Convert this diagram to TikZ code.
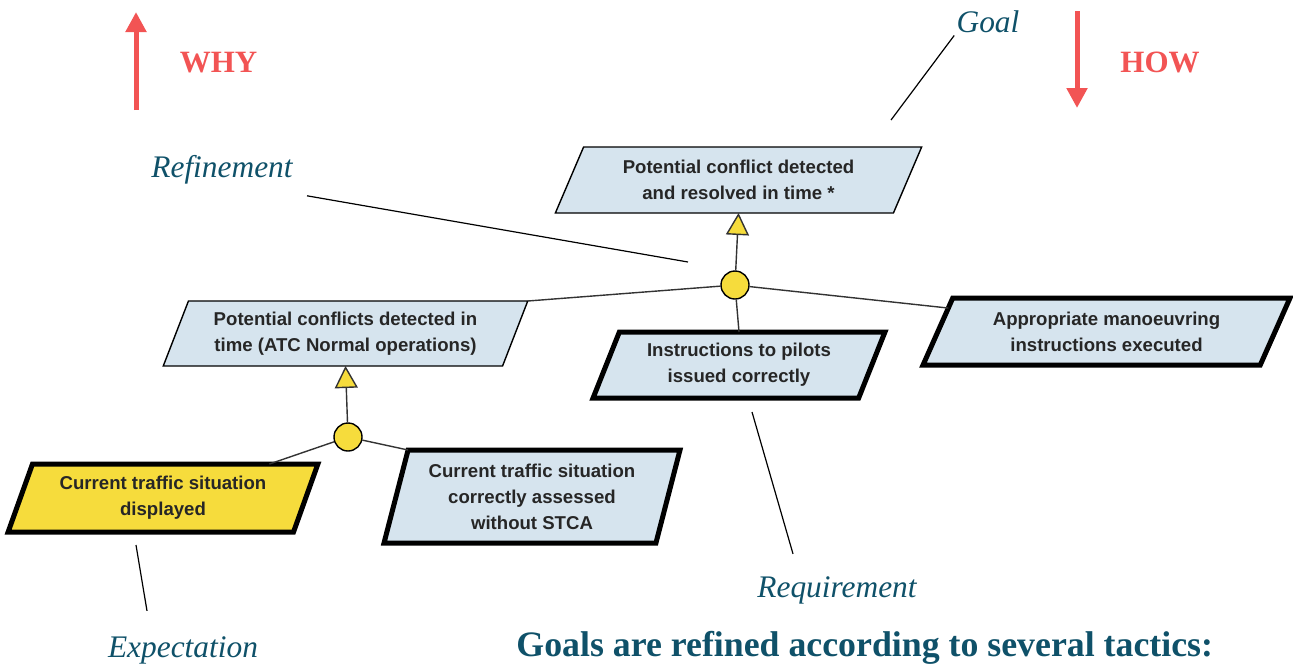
\documentclass[tikz,border=0pt]{standalone}
\usepackage{fontspec}
\setmainfont{Liberation Serif}
\setsansfont{Liberation Sans}
\usetikzlibrary{shapes.geometric, arrows.meta, calc}

\definecolor{goalblue}{HTML}{D6E4EE}
\definecolor{goalyellow}{HTML}{F6DC3C}
\definecolor{noteteal}{HTML}{0F5169}
\definecolor{dirred}{HTML}{F25454}

\begin{document}
\begin{tikzpicture}[x=0.5pt, y=-0.5pt,
    goalbox/.style={trapezium, trapezium stretches=true, draw, line width=0.7pt,
        fill=goalblue, inner sep=0pt, outer sep=0pt, align=center, text=black!85,
        font=\sffamily\bfseries\fontsize{9.3}{13}\selectfont},
    reqbox/.style={goalbox, line width=2.5pt},
    expbox/.style={reqbox, fill=goalyellow},
    refine/.style={circle, draw, line width=0.7pt, fill=goalyellow, minimum size=14pt, inner sep=0pt},
    link/.style={draw=black!80, line width=0.7pt},
    achieve/.style={link, -{Triangle[length=11pt, width=11.5pt, fill=goalyellow]}},
    note/.style={text=noteteal, inner sep=1pt, font=\itshape\fontsize{15.7}{18}\selectfont},
    pointer/.style={draw=black, line width=0.6pt},
    dirarrow/.style={draw=dirred, line width=2.5pt, -{Triangle[length=10pt, width=10pt]}},
    dirlabel/.style={text=dirred, anchor=base, font=\bfseries\fontsize{15.5}{18}\selectfont}]

    \useasboundingbox (0,0) rectangle (1293,666);

    % goals
    \node[goalbox, trapezium left angle=62, trapezium right angle=118,
        minimum width=183.5pt, minimum height=33pt] (g0) at (738.5,180)
        {Potential conflict detected\\and resolved in time *};
    \node[goalbox, trapezium left angle=64, trapezium right angle=116,
        minimum width=182.5pt, minimum height=32.5pt] (a1) at (345.5,333.5)
        {Potential conflicts detected in\\time (ATC Normal operations)};
    \node[reqbox, trapezium left angle=65, trapezium right angle=115,
        minimum width=146pt, minimum height=33pt] (i1) at (739,365)
        {Instructions to pilots\\issued correctly};
    \node[reqbox, trapezium left angle=61, trapezium right angle=119,
        minimum width=183.5pt, minimum height=33.5pt] (c1) at (1106.5,331.5)
        {Appropriate manoeuvring\\instructions executed};
    \node[expbox, trapezium left angle=66, trapezium right angle=114,
        minimum width=155pt, minimum height=34pt] (y1) at (163,498)
        {Current traffic situation\\displayed};
    \node[reqbox, trapezium left angle=73, trapezium right angle=107,
        minimum width=148pt, minimum height=46.5pt] (b1) at (532,496.5)
        {Current traffic situation\\correctly assessed\\without STCA};

    % refinements
    \node[refine] (r1) at (735,285) {};
    \node[refine] (r2) at (348,437) {};

    \draw[achieve] (r1) -- (g0.south);
    \draw[link] (r1) -- (a1.top right corner);
    \draw[link] (r1) -- (i1.north);
    \draw[link] (r1) -- ($(c1.top left corner)!0.15!(c1.bottom left corner)$);

    \draw[achieve] (r2) -- (a1.south);
    \draw[link] (r2) -- ($(y1.top left corner)!0.83!(y1.top right corner)$);
    \draw[link] (r2) -- (b1.top left corner);

    % annotations
    \node[note] (goallbl) at (988,22) {Goal};
    \node[note] (reflbl) at (222,170) {Refinement};
    \node[note] (reqlbl) at (837,590) {Requirement};
    \node[note] (explbl) at (183,650) {Expectation};
    \coordinate (goaltip) at (891,120);
    \coordinate (reftip) at (688,262);
    \coordinate (reqtip) at (752,412);
    \coordinate (exptip) at (136,545);

    \draw[pointer] (goallbl.south west) -- (goaltip);
    \draw[pointer] ([xshift=6pt, yshift=-4.5pt]reflbl.south east) -- (reftip);
    \draw[pointer] ([xshift=-22pt, yshift=10pt]reqlbl.north) -- (reqtip);
    \draw[pointer] ([xshift=-18pt, yshift=11.5pt]explbl.north) -- (exptip);

    % why / how
    \coordinate (whybase) at (136,110);
    \coordinate (whytip) at (136,12);
    \coordinate (howbase) at (1077,11);
    \coordinate (howtip) at (1077,108);
    \draw[dirarrow] (whybase) -- (whytip);
    \draw[dirarrow] (howbase) -- (howtip);
    \node[dirlabel] (why) at (218.5,72) {WHY};
    \node[dirlabel] (how) at (1160,72) {HOW};

    \node[anchor=base west, inner sep=0pt, text=noteteal,
        font=\bfseries\fontsize{17.9}{20}\selectfont] (tactics) at (516,656)
        {Goals are refined according to several tactics:};

\end{tikzpicture}
\end{document}
